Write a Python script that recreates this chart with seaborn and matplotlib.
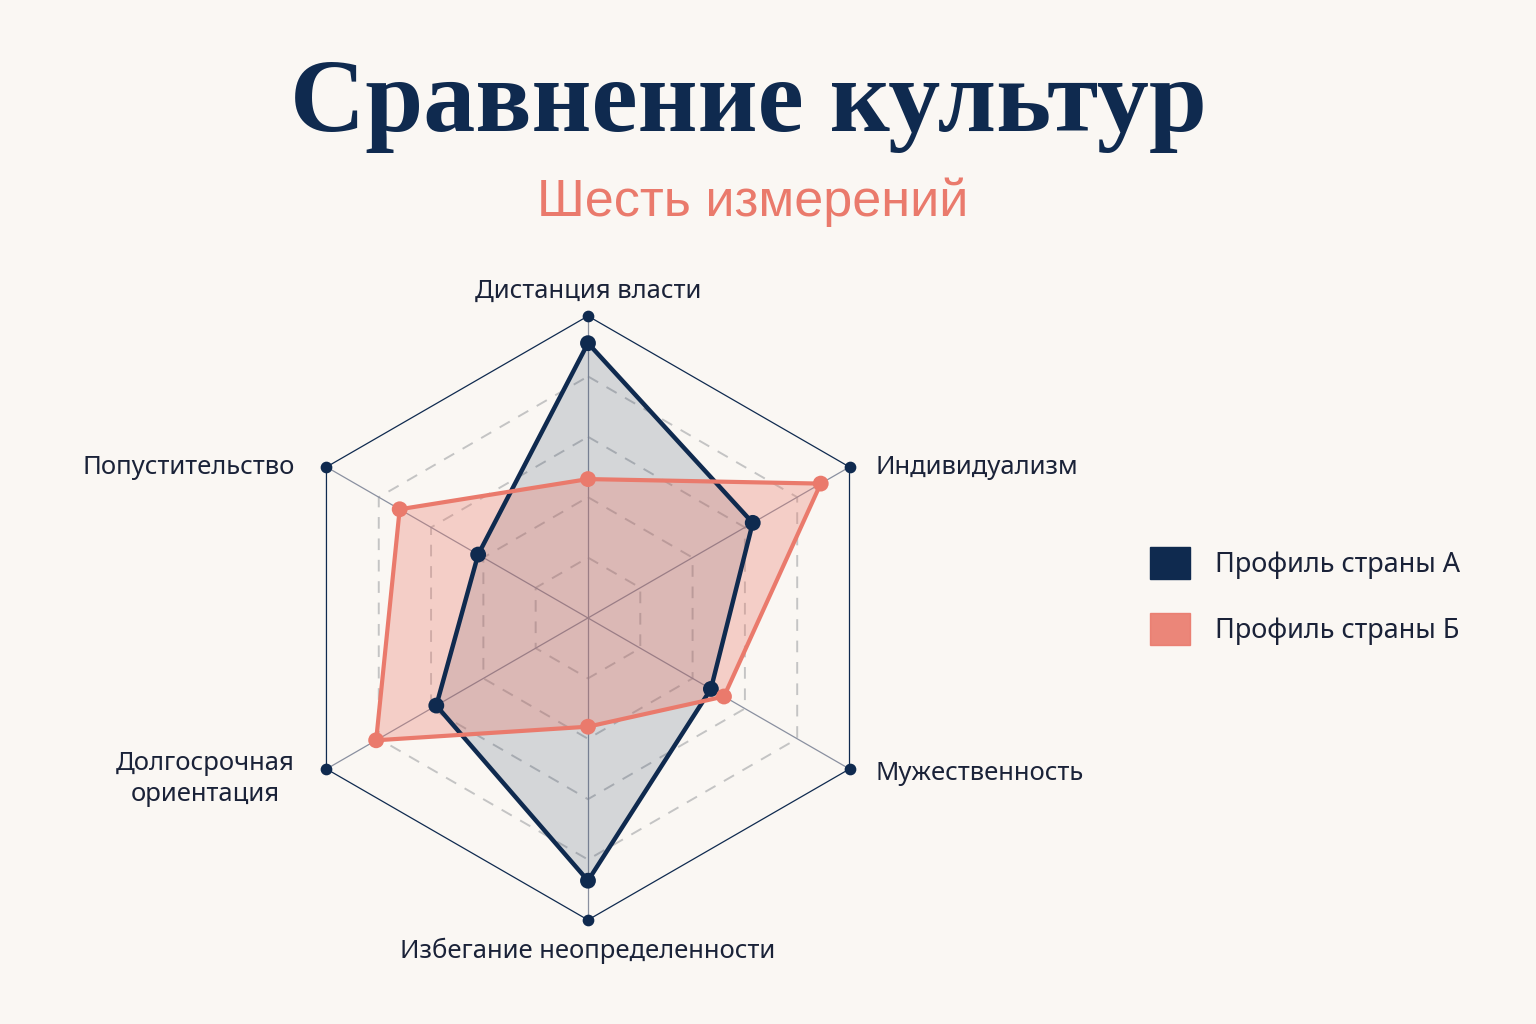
import numpy as np
import pandas as pd
import matplotlib
matplotlib.use("Agg")
import matplotlib.pyplot as plt
from matplotlib.patches import Patch
import seaborn as sns

# data
dimensions = ["Дистанция власти", "Индивидуализм", "Мужественность",
              "Избегание неопределенности", "Долгосрочная\nориентация", "Попустительство"]
profile_a = [91, 63, 47, 87, 58, 42]
profile_b = [46, 89, 52, 36, 81, 72]
grid_levels = [20, 40, 60, 80]
series_names = ["Профиль страны А", "Профиль страны Б"]

NAVY = "#0f2a4f"
CORAL = "#ea7a6c"
BG = "#faf7f3"

sns.set_theme(style="white")
plt.rcParams["font.family"] = ["Noto Sans", "DejaVu Sans"]

fig = plt.figure(figsize=(15.36, 10.24), dpi=100, facecolor=BG)
ax = fig.add_axes([0.1862, 0.1016, 0.3932, 0.5898], projection="polar")
ax.set_facecolor("none")
ax.set_theta_offset(np.pi / 2)
ax.set_theta_direction(-1)
ax.set_ylim(0, 100)
ax.grid(False)
ax.spines["polar"].set_visible(False)
ax.set_xticks([])
ax.set_yticks([])

n = len(dimensions)
angles = np.linspace(0, 2 * np.pi, n, endpoint=False)
closed = np.append(angles, angles[0])

# grid rings
for lvl in grid_levels:
    ax.plot(closed, [lvl] * (n + 1), color="#c4c4c4", lw=1.4, ls=(0, (6, 5)), zorder=1)
ax.plot(closed, [100] * (n + 1), color=NAVY, lw=0.9, zorder=1, clip_on=False)
for a in angles:
    ax.plot([a, a], [0, 100], color="#8a90a0", lw=0.9, zorder=1)
ax.scatter(angles, [100] * n, s=55, color=NAVY, zorder=5, clip_on=False)

# series
for vals, color, fill_alpha, lw in [(profile_a, NAVY, 0.16, 3.2), (profile_b, CORAL, 0.32, 3.0)]:
    r = np.append(vals, vals[0])
    df = pd.DataFrame({"theta": closed, "r": r})
    ax.fill(closed, r, color=color, alpha=fill_alpha, lw=0, zorder=2)
    sns.lineplot(data=df, x="theta", y="r", sort=False, estimator=None,
                 color=color, lw=lw, ax=ax, zorder=3)
    sns.scatterplot(x=angles, y=vals, color=color, s=130, edgecolor="none",
                    ax=ax, zorder=4, legend=False)
ax.set_xlabel("")
ax.set_ylabel("")

# axis labels
lab_kw = dict(fontsize=18.5, color="#1a2238")
fig.text(588 / 1536, 1 - 291 / 1024, dimensions[0], ha="center", va="center", **lab_kw)
fig.text(876 / 1536, 1 - 468 / 1024, dimensions[1], ha="left", va="center", **lab_kw)
fig.text(876 / 1536, 1 - 774 / 1024, dimensions[2], ha="left", va="center", **lab_kw)
fig.text(588 / 1536, 1 - 951 / 1024, dimensions[3], ha="center", va="center", **lab_kw)
fig.text(205 / 1536, 1 - 779 / 1024, dimensions[4], ha="center", va="center",
         multialignment="center", linespacing=1.32, **lab_kw)
fig.text(295 / 1536, 1 - 468 / 1024, dimensions[5], ha="right", va="center", **lab_kw)

# titles
fig.text(748 / 1536, 1 - 106 / 1024, "Сравнение культур", ha="center", va="center",
         fontsize=75, fontweight="bold", color=NAVY,
         family=["Liberation Serif", "DejaVu Serif"])
fig.text(753 / 1536, 1 - 202 / 1024, "Шесть измерений", ha="center", va="center",
         fontsize=37.5, color=CORAL, family=["Liberation Sans", "DejaVu Sans"])

# legend
handles = [Patch(facecolor=NAVY, edgecolor=NAVY), Patch(facecolor=CORAL, edgecolor=CORAL, alpha=0.9)]
fig.legend(handles, series_names, loc="center left", bbox_to_anchor=(1126 / 1536, 1 - 596 / 1024),
           frameon=False, fontsize=19.5, handlelength=1.45, handleheight=1.45,
           handletextpad=0.95, labelspacing=1.25, labelcolor="#1a2238")

fig.savefig("out.png", dpi=100, facecolor=BG)
